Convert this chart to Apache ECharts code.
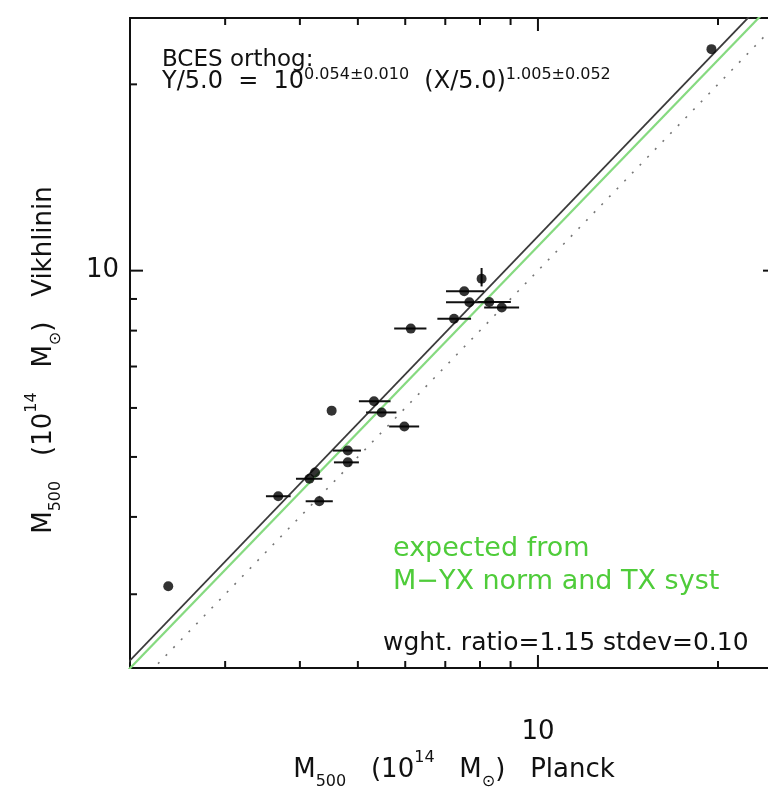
<!DOCTYPE html>
<html><head><meta charset="utf-8">
<script src="https://cdn.jsdelivr.net/npm/echarts@6/dist/echarts.min.js"></script>
<style>html,body{margin:0;padding:0;background:#fff}#c{width:768px;height:788px}</style>
</head><body><div id="c"></div>
<script>
// ---- data (M500 in 1e14 Msun) ----
const planckX  = [8.05, 7.53, 7.68, 8.29, 8.70, 7.24, 6.13, 5.32, 4.52, 5.48, 5.98, 4.81, 4.81, 4.24, 4.15, 3.68, 4.31, 2.41, 19.5];
const vikhY    = [9.70, 9.26, 8.89, 8.90, 8.72, 8.36, 8.06, 6.15, 5.94, 5.90, 5.60, 5.12, 4.90, 4.72, 4.61, 4.32, 4.24, 3.09, 22.8];
const planckLo = [8.05, 7.02, 7.02, 7.93, 8.13, 6.79, 5.75, 5.02, 4.52, 5.16, 5.64, 4.54, 4.56, 4.24, 3.94, 3.51, 4.09, 2.41, 19.5];
const planckHi = [8.05, 8.13, 8.35, 9.01, 9.30, 7.73, 6.51, 5.67, 4.52, 5.80, 6.33, 5.06, 5.02, 4.24, 4.36, 3.86, 4.54, 2.41, 19.5];
const vikhLo   = [9.43, 9.26, 8.89, 8.90, 8.72, 8.36, 8.06, 6.15, 5.94, 5.90, 5.60, 5.12, 4.90, 4.72, 4.61, 4.32, 4.24, 3.09, 22.8];
const vikhHi   = [10.10, 9.26, 8.89, 8.90, 8.72, 8.36, 8.06, 6.15, 5.94, 5.90, 5.60, 5.12, 4.90, 4.72, 4.61, 4.32, 4.24, 3.09, 22.8];

const xRange = [2.08, 25];
const yRange = [2.28, 25.6];
const xTicks = [3, 4, 5, 6, 7, 8, 9, 10, 20];
const yTicks = [3, 4, 5, 6, 7, 8, 9, 10, 20];
const majorTicks = [10];
const tickLabels = [10];

// BCES orthogonal fit: Y/5 = 10^a (X/5)^b
const pivot = 5.0;
const fitA = 0.054;
const fitB = 1.005;
// expected ratio from M-YX norm and TX syst
const expectedRatio = 1.095;
const lineX = [2.0, 27];

const FONT = 'DejaVu Sans';
const isMajor = v => majorTicks.indexOf(v) >= 0;
const isLabel = v => tickLabels.some(t => Math.abs(t - v) < 1e-3);

const chart = echarts.init(document.getElementById('c'));

const seg = (a, b, w) => ({type: 'line', shape: {x1: a[0], y1: a[1], x2: b[0], y2: b[1]}, style: {stroke: '#111', lineWidth: w}});

const titleRich = {
  n: {fontSize: 26, fontFamily: FONT, fill: '#111', color: '#111', lineHeight: 40, verticalAlign: 'middle'},
  b: {fontSize: 16, fontFamily: FONT, fill: '#111', color: '#111', lineHeight: 22, verticalAlign: 'bottom'},
  p: {fontSize: 16, fontFamily: FONT, fill: '#111', color: '#111', lineHeight: 13, verticalAlign: 'top'}
};

const option = {
  animation: false,
  backgroundColor: '#fff',
  grid: {left: 130, top: 18, width: 646, height: 650, show: true, borderColor: '#111', borderWidth: 2,
         backgroundColor: 'transparent', containLabel: false, outerBoundsMode: 'none'},
  xAxis: {
    type: 'log', min: xRange[0], max: xRange[1], logBase: 10,
    axisLine: {show: false}, axisTick: {show: false}, splitLine: {show: false}, minorTick: {show: false},
    axisLabel: {show: true, formatter: v => isLabel(v) ? '10' : '', fontSize: 26, fontFamily: FONT, color: '#111', margin: 51, showMinLabel: true, showMaxLabel: true}
  },
  yAxis: {
    type: 'log', min: yRange[0], max: yRange[1], logBase: 10,
    axisLine: {show: false}, axisTick: {show: false}, splitLine: {show: false}, minorTick: {show: false},
    axisLabel: {show: true, formatter: v => isLabel(v) ? '10' : '', fontSize: 26, fontFamily: FONT, color: '#111', margin: 11}
  },
  series: [
    { // 1:1 line
      type: 'line', data: lineX.map(x => [x, x]), showSymbol: false, symbol: 'none', clip: true,
      lineStyle: {color: '#777', width: 1.6, type: [2, 9]}, z: 2, silent: true
    },
    { // expected (green)
      type: 'line', data: lineX.map(x => [x, expectedRatio * x]), showSymbol: false, symbol: 'none', clip: true,
      lineStyle: {color: '#86da80', width: 2.2}, z: 2, silent: true
    },
    { // BCES fit
      type: 'line', data: lineX.map(x => [x, pivot * Math.pow(10, fitA) * Math.pow(x / pivot, fitB)]), showSymbol: false, symbol: 'none', clip: true,
      lineStyle: {color: '#3a3a3a', width: 1.8}, z: 3, silent: true
    },
    { // error bars
      type: 'custom', z: 4, silent: true,
      data: planckX.map((x, i) => [x, vikhY[i], planckLo[i], planckHi[i], vikhLo[i], vikhHi[i]]),
      encode: {x: 0, y: 1},
      renderItem: (params, api) => {
        const x = api.value(0), y = api.value(1);
        const xl = api.value(2), xh = api.value(3), yl = api.value(4), yh = api.value(5);
        const ch = [];
        if (xh > xl) ch.push(seg(api.coord([xl, y]), api.coord([xh, y]), 2));
        if (yh > yl) ch.push(seg(api.coord([x, yl]), api.coord([x, yh]), 2));
        return {type: 'group', children: ch};
      }
    },
    { // points
      type: 'scatter', z: 5, silent: true,
      data: planckX.map((x, i) => [x, vikhY[i]]),
      symbol: 'circle', symbolSize: 10, itemStyle: {color: '#000'}
    },
    { // x ticks (bottom & top)
      type: 'custom', z: 6, silent: true, clip: false,
      data: xTicks.map(v => [v, yRange[0]]),
      encode: {x: 0, y: 1},
      renderItem: (params, api) => {
        const v = api.value(0);
        const len = isMajor(v) ? 13 : 7;
        const b = api.coord([v, yRange[0]]), t = api.coord([v, yRange[1]]);
        return {type: 'group', children: [seg(b, [b[0], b[1] - len], 2), seg(t, [t[0], t[1] + len], 2)]};
      }
    },
    { // y ticks (left & right)
      type: 'custom', z: 6, silent: true, clip: false,
      data: yTicks.map(v => [xRange[0], v]),
      encode: {x: 0, y: 1},
      renderItem: (params, api) => {
        const v = api.value(1);
        const len = isMajor(v) ? 13 : 7;
        const l = api.coord([xRange[0], v]), r = api.coord([xRange[1], v]);
        return {type: 'group', children: [seg(l, [l[0] + len, l[1]], 2), seg(r, [r[0] - len, r[1]], 2)]};
      }
    }
  ],
  graphic: [
    { type: 'text', x: 162, y: 60, z: 10,
      style: {text: 'BCES orthog:', font: '23px "' + FONT + '"', fill: '#111', align: 'left', verticalAlign: 'middle'} },
    { type: 'text', x: 162, y: 82, z: 10,
      style: {
        text: '{n|Y/5.0  =  10}{s|' + fitA.toFixed(3) + '\u00b10.010}{n|  (X/5.0)}{s|' + fitB.toFixed(3) + '\u00b10.052}',
        align: 'left', verticalAlign: 'middle',
        rich: {
          n: {fontSize: 24, fontFamily: FONT, fill: '#111', color: '#111', lineHeight: 30, verticalAlign: 'middle'},
          s: {fontSize: 16, fontFamily: FONT, fill: '#111', color: '#111', lineHeight: 19, verticalAlign: 'top'}
        }
      } },
    { type: 'text', x: 393, y: 548.5, z: 10,
      style: {text: 'expected from', font: '27px "' + FONT + '"', fill: '#4fcc3a', align: 'left', verticalAlign: 'middle'} },
    { type: 'text', x: 393, y: 582, z: 10,
      style: {text: 'M\u2212YX norm and TX syst', font: '27px "' + FONT + '"', fill: '#4fcc3a', align: 'left', verticalAlign: 'middle'} },
    { type: 'text', x: 383, y: 643.5, z: 10,
      style: {text: 'wght. ratio=1.15 stdev=0.10', font: '25px "' + FONT + '"', fill: '#111', align: 'left', verticalAlign: 'middle'} },
    { type: 'text', x: 454, y: 770, z: 10,
      style: {
        text: '{n|M}{b|500}{n|   (10}{p|14}{n|   M}{b|\u2299}{n|)   Planck}',
        align: 'center', verticalAlign: 'middle', rich: titleRich
      } },
    { type: 'text', x: 44, y: 360, rotation: Math.PI / 2, z: 10,
      style: {
        text: '{n|M}{b|500}{n|   (10}{p|14}{n|   M}{b|\u2299}{n|)   Vikhlinin}',
        align: 'center', verticalAlign: 'middle', rich: titleRich
      } }
  ]
};
chart.setOption(option);
</script>
</body></html>
